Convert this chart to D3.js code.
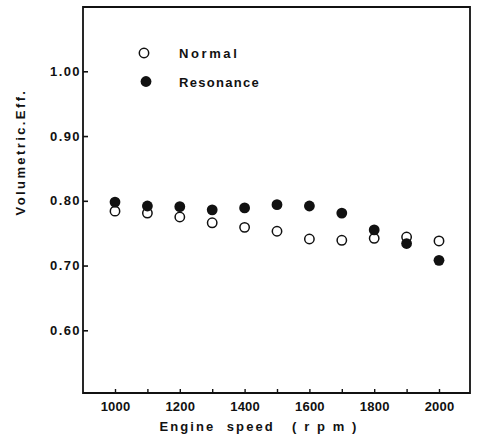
<!DOCTYPE html>
<html>
<head>
<meta charset="utf-8">
<script src="https://cdn.jsdelivr.net/npm/d3@7"></script>
<style>
  html, body { margin: 0; padding: 0; background: #fff; }
  svg { display: block; }
  text { font-family: "Liberation Sans", Arial, sans-serif; font-weight: bold; fill: #111; }
</style>
</head>
<body>
<svg id="chart" width="480" height="446"></svg>
<script>
// Engine speed (rpm) and volumetric efficiency for the two intake systems
const speeds = [1000, 1100, 1200, 1300, 1400, 1500, 1600, 1700, 1800, 1900, 2000];
const normal = [0.784, 0.781, 0.775, 0.766, 0.759, 0.753, 0.741, 0.739, 0.742, 0.744, 0.738];
const resonance = [0.798, 0.792, 0.791, 0.786, 0.789, 0.794, 0.792, 0.781, 0.755, 0.734, 0.708];
const xTicks = [1000, 1100, 1200, 1300, 1400, 1500, 1600, 1700, 1800, 1900, 2000];
const xLabels = [1000, 1200, 1400, 1600, 1800, 2000];
const yTicks = [0.60, 0.70, 0.80, 0.90, 1.00];

const svg = d3.select("#chart");
const frame = { left: 83, right: 470, top: 7, bottom: 393 };

const x = d3.scaleLinear().domain([1000, 2000]).range([115, 439]);
const y = d3.scaleLinear().domain([0.60, 1.00]).range([330.3, 71.3]);

const ink = "#111";
const font = "Liberation Sans, Arial, sans-serif";

// Frame: left and bottom axes plus top and right borders
svg.append("path")
  .attr("d", `M${frame.left},${frame.top}H${frame.right}V${frame.bottom}H${frame.left}Z`)
  .attr("fill", "none").attr("stroke", ink).attr("stroke-width", 1.8);

// Y axis ticks pointing inward, labels on the left
const yAxis = d3.axisLeft(y).tickValues(yTicks).tickSizeInner(-5).tickSizeOuter(0)
  .tickPadding(2).tickFormat(d3.format(".2f"));
const gy = svg.append("g").attr("transform", `translate(${frame.left},0)`).call(yAxis);
gy.select(".domain").remove();
gy.selectAll(".tick line").attr("stroke", ink).attr("stroke-width", 1.6);
gy.selectAll(".tick text").attr("font-size", 13).attr("letter-spacing", 1.4)
  .attr("fill", ink).attr("font-family", font).attr("font-weight", "bold");

// X axis ticks every 100 rpm pointing inward, labels every 200 rpm
const xAxis = d3.axisBottom(x).tickValues(xTicks).tickSizeInner(-4).tickSizeOuter(0)
  .tickPadding(9).tickFormat(d => xLabels.includes(d) ? d : "");
const gx = svg.append("g").attr("transform", `translate(0,${frame.bottom})`).call(xAxis);
gx.select(".domain").remove();
gx.selectAll(".tick line").attr("stroke", ink).attr("stroke-width", 1.4);
gx.selectAll(".tick text").attr("font-size", 13).attr("letter-spacing", 0.2)
  .attr("fill", ink).attr("font-family", font).attr("font-weight", "bold");

// Axis titles
svg.append("text")
  .attr("x", 259).attr("y", 431).attr("text-anchor", "middle")
  .attr("font-size", 13).attr("letter-spacing", 2.1)
  .attr("xml:space", "preserve")
  .text("Engine  speed   ( r p m )");

svg.append("text")
  .attr("transform", "translate(25,152) rotate(-90)")
  .attr("text-anchor", "middle")
  .attr("font-size", 13).attr("letter-spacing", 2.4)
  .text("Volumetric.Eff.");

// Data markers
const r = 5.4;
svg.append("g").selectAll("circle")
  .data(speeds.map((s, i) => [s, normal[i]]))
  .join("circle")
  .attr("cx", d => x(d[0])).attr("cy", d => y(d[1])).attr("r", r - 0.7)
  .attr("fill", "#fff").attr("stroke", ink).attr("stroke-width", 1.5);

svg.append("g").selectAll("circle")
  .data(speeds.map((s, i) => [s, resonance[i]]))
  .join("circle")
  .attr("cx", d => x(d[0])).attr("cy", d => y(d[1])).attr("r", r)
  .attr("fill", ink);

// Legend
const legend = svg.append("g");
legend.append("circle").attr("cx", 144).attr("cy", 53).attr("r", r - 0.7)
  .attr("fill", "#fff").attr("stroke", ink).attr("stroke-width", 1.5);
legend.append("text").attr("x", 179).attr("y", 58)
  .attr("font-size", 13).attr("letter-spacing", 2.6).text("Normal");
legend.append("circle").attr("cx", 146).attr("cy", 81.5).attr("r", r).attr("fill", ink);
legend.append("text").attr("x", 179).attr("y", 86.5)
  .attr("font-size", 13).attr("letter-spacing", 1.3).text("Resonance");
</script>
</body>
</html>
